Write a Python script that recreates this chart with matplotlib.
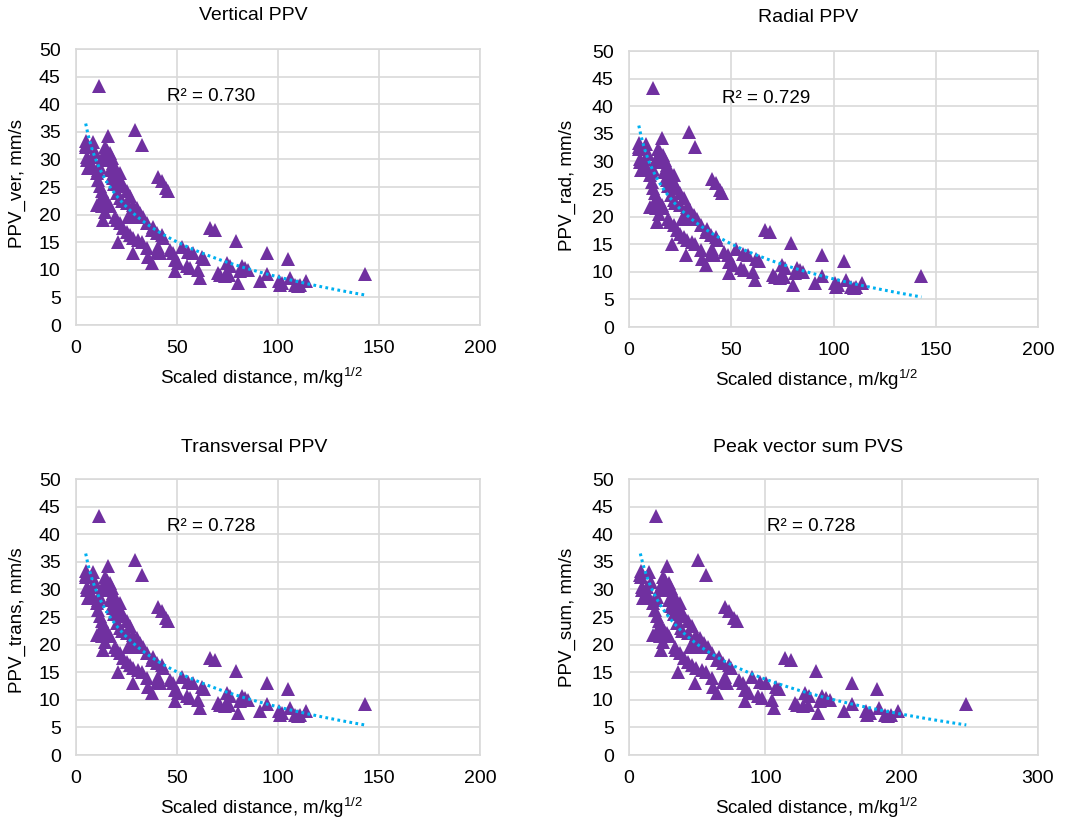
import numpy as np
import matplotlib.pyplot as plt

plt.rcParams['font.family'] = ['Liberation Sans', 'DejaVu Sans']
plt.rcParams['mathtext.fontset'] = 'custom'
plt.rcParams['mathtext.rm'] = 'Liberation Sans'
plt.rcParams['mathtext.it'] = 'Liberation Sans:italic'

# scaled distance (m/kg^1/2) for the PPV components
sd = [11.6, 29.2, 32.5, 4.9, 5.0, 4.8, 8.3, 5.6, 6.1, 10.2,
      13.5, 16.0, 21.0, 28.0, 40.8, 42.4, 44.4, 45.7, 66.3, 68.8,
      79.2, 94.4, 105.0, 143.0, 114.0, 110.0, 111.0, 101.0, 102.0, 106.0,
      91.0, 94.4, 80.0, 81.0, 83.7, 85.3, 82.0, 74.6, 76.2, 75.9,
      73.8, 71.3, 70.5, 61.4, 60.6, 62.2, 63.4, 55.6, 52.3, 54.8,
      56.4, 49.0, 49.0, 48.2, 46.5, 50.7, 40.8, 39.9, 41.6, 37.5,
      35.8, 35.0, 32.5, 30.9, 37.5, 38.3, 39.9, 43.2, 42.4, 35.0,
      31.7, 33.3, 30.0, 28.4, 26.7, 25.1, 23.4, 21.0, 22.6, 20.1,
      19.3, 18.5, 17.7, 16.8, 15.2, 14.4, 13.5, 12.7, 16.8, 10.2,
      11.1, 11.9, 12.7, 13.5, 14.9, 16.0, 16.8, 19.3, 20.1, 21.8,
      23.4, 25.1, 26.7, 28.4, 29.2, 27.6, 25.1, 22.6, 21.8, 18.5,
      25.9, 8.6, 7.8, 9.4, 11.9, 11.1, 5.3, 14.0, 15.5, 17.0,
      18.0, 19.0, 20.5, 22.0, 12.0, 13.0, 14.5, 100.5, 108.5, 58.0]

# scaled distance used for the peak vector sum panel
sd_pvs = [20.1, 50.5, 56.2, 8.5, 8.7, 8.3, 14.4, 9.7, 10.6, 17.6,
          23.4, 27.7, 36.3, 48.4, 70.6, 73.4, 76.8, 79.1, 114.7, 119.0,
          137.0, 163.3, 181.7, 247.4, 197.2, 190.3, 192.0, 174.7, 176.5, 183.4,
          157.4, 163.3, 138.4, 140.1, 144.8, 147.6, 141.9, 129.1, 131.8, 131.3,
          127.7, 123.3, 122.0, 106.2, 104.8, 107.6, 109.7, 96.2, 90.5, 94.8,
          97.6, 84.8, 84.8, 83.4, 80.4, 87.7, 70.6, 69.0, 72.0, 64.9,
          61.9, 60.6, 56.2, 53.5, 64.9, 66.3, 69.0, 74.7, 73.4, 60.6,
          54.8, 57.6, 51.9, 49.1, 46.2, 43.4, 40.5, 36.3, 39.1, 34.8,
          33.4, 32.0, 30.6, 29.1, 26.3, 24.9, 23.4, 22.0, 29.1, 17.6,
          19.2, 20.6, 22.0, 23.4, 25.8, 27.7, 29.1, 33.4, 34.8, 37.7,
          40.5, 43.4, 46.2, 49.1, 50.5, 47.7, 43.4, 39.1, 37.7, 32.0,
          44.8, 14.9, 13.5, 16.3, 20.6, 19.2, 9.2, 24.2, 26.8, 29.4,
          31.1, 32.9, 35.5, 38.1, 20.8, 22.5, 25.1, 173.9, 187.7, 100.3]

# peak particle velocity, mm/s
ppv = [43.3, 35.4, 32.6, 32.3, 33.3, 32.6, 33.1, 29.9, 28.4, 21.8,
       19.0, 34.2, 15.1, 13.0, 26.9, 26.0, 24.8, 24.2, 17.5, 17.2,
       15.3, 13.0, 11.9, 9.25, 7.9, 7.0, 7.3, 7.3, 7.6, 8.5,
       7.9, 9.25, 7.6, 9.7, 10.3, 9.9, 10.6, 11.2, 10.6, 9.1,
       8.8, 9.1, 9.4, 8.5, 10.0, 12.4, 11.9, 13.3, 14.2, 10.6,
       10.3, 9.7, 11.8, 13.0, 13.6, 11.2, 14.2, 13.3, 13.0, 11.2,
       12.4, 13.9, 15.1, 15.4, 17.2, 17.8, 16.6, 15.7, 16.3, 18.4,
       20.3, 19.6, 21.2, 21.8, 23.3, 24.2, 25.1, 26.0, 25.7, 27.5,
       28.4, 29.3, 30.2, 31.1, 31.7, 32.3, 30.5, 29.9, 29.9, 27.5,
       26.3, 25.1, 24.2, 23.3, 22.7, 22.1, 21.5, 19.6, 19.0, 18.4,
       17.5, 16.9, 16.3, 15.7, 19.6, 20.3, 22.1, 22.4, 27.5, 26.6,
       19.6, 28.7, 30.5, 31.4, 28.7, 28.1, 30.5, 31.0, 30.0, 28.0,
       27.0, 25.5, 24.0, 23.0, 22.5, 21.5, 20.5, 8.0, 7.2, 13.0]

titles = ["Vertical PPV", "Radial PPV", "Transversal PPV", "Peak vector sum PVS"]
ylabels = ["PPV_ver, mm/s", "PPV_rad, mm/s", "PPV_trans, mm/s", "PPV_sum, mm/s"]
r2_labels = ["R² = 0.730", "R² = 0.729", "R² = 0.728", "R² = 0.728"]
xmax = [200, 200, 200, 300]
r2_x = [44.9, 45.3, 44.9, 100.9]

# log trend lines y = a + b*ln(x)
trend_a = [50.85, 50.85, 50.85, 55.87]
trend_b = [-9.15, -9.15, -9.15, -9.15]

W, H = 1072, 821
fig = plt.figure(figsize=(W / 100, H / 100), dpi=100)

# axes boxes in pixels: left, top, right, bottom
boxes = [(76, 49, 480, 325), (629, 51, 1038, 327),
         (76, 479, 480, 755), (629, 479, 1038, 755)]
title_pos = [(253, 16), (808, 18), (254, 447), (808, 447)]
xlab_pos = [(262, 378), (817, 380), (262, 808), (817, 808)]
ylab_pos = [(17, 183), (567, 185), (17, 620), (567, 617)]

purple = '#7030A0'
blue = '#00B0F0'
grid = '#D9D9D9'
xlab = r'Scaled distance, m/kg$^{\mathregular{1/2}}$'

for i in range(4):
    l, t, r, b = boxes[i]
    ax = fig.add_axes([l / W, 1 - b / H, (r - l) / W, (b - t) / H])
    x = np.array(sd_pvs if i == 3 else sd)
    y = np.array(ppv)

    ax.plot(x, y, linestyle='none', marker='^', ms=10.5, color=purple,
            markeredgewidth=0, zorder=3)

    xt = np.linspace(x.min(), x.max(), 300)
    ax.plot(xt, trend_a[i] + trend_b[i] * np.log(xt), color=blue, lw=2.2,
            linestyle=(0, (0.9, 1.1)), zorder=4)

    ax.text(r2_x[i], 41.4, r2_labels[i], fontsize=13.5, va='center', ha='left')

    ax.set_xlim(0, xmax[i])
    ax.set_ylim(0, 50)
    ax.set_yticks(range(0, 51, 5))
    ax.set_xticks(range(0, xmax[i] + 1, 50 if xmax[i] == 200 else 100))
    ax.grid(True, color=grid, lw=1.2)
    ax.set_axisbelow(True)
    for s in ax.spines.values():
        s.set_color(grid)
        s.set_linewidth(1.2)
    ax.tick_params(length=0, pad=11, labelsize=14)

    fig.text(title_pos[i][0] / W, 1 - title_pos[i][1] / H, titles[i],
             fontsize=14, ha='center', va='center')
    fig.text(xlab_pos[i][0] / W, 1 - xlab_pos[i][1] / H, xlab,
             fontsize=13.5, ha='center', va='center')
    fig.text(ylab_pos[i][0] / W, 1 - ylab_pos[i][1] / H, ylabels[i],
             fontsize=13.5, ha='center', va='center', rotation=90)

fig.savefig('out.png', dpi=100, facecolor='white')
